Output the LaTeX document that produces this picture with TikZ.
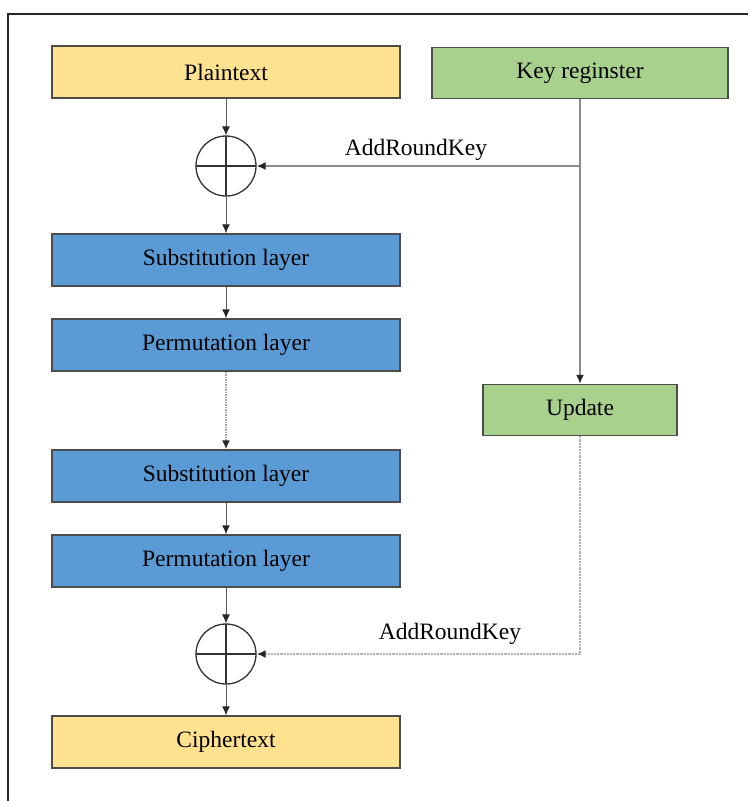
\documentclass[tikz,border=0pt]{standalone}
\usepackage{fontspec}
\setmainfont{Liberation Serif}
\usetikzlibrary{arrows.meta,positioning,calc}
\definecolor{textyellow}{HTML}{FFE28F}
\definecolor{keygreen}{HTML}{A9D18E}
\definecolor{layerblue}{HTML}{5B9BD5}

\begin{document}
\begin{tikzpicture}[x=1pt,y=-1pt,
  box/.style={rectangle, draw=black!70, line width=1.5pt, inner sep=0pt,
    minimum width=348pt, minimum height=52pt, font=\fontsize{23.5}{28}\selectfont},
  xorgate/.style={circle, draw=black!80, line width=1.3pt, minimum size=60pt, inner sep=0pt,
    path picture={\draw[black!80, line width=1.3pt]
      (path picture bounding box.north) -- (path picture bounding box.south)
      (path picture bounding box.west) -- (path picture bounding box.east);}},
  tip/.style={-{Latex[length=9pt,width=8pt,color=black!85]}},
  flow/.style={tip, black!65, line width=1pt},
  keyline/.style={black!45, line width=1.3pt},
  dotline/.style={black!30, line width=2.2pt, densely dotted},
  lbl/.style={font=\fontsize{23.5}{28}\selectfont, inner sep=0pt}]
\useasboundingbox (0,0) rectangle (748,801);
\draw[black!85, line width=2pt] (8,801) -- (8,14) -- (748,14);

% data path
\node[box, fill=textyellow] (plain) at (226,72) {Plaintext};
\node[xorgate] (xorA) at (226,166) {};
\node[box, fill=layerblue] (subA) at (226,260) {Substitution layer};
\node[box, fill=layerblue] (permA) at (226,345) {Permutation layer};
\node[box, fill=layerblue] (subB) at (226,476) {Substitution layer};
\node[box, fill=layerblue] (permB) at (226,561) {Permutation layer};
\node[xorgate] (xorB) at (226,654) {};
\node[box, fill=textyellow] (cipher) at (226,742) {Ciphertext};

% key schedule
\node[box, fill=keygreen, minimum width=296pt, minimum height=51pt] (key) at (580,73) {Key reginster};
\node[box, fill=keygreen, minimum width=194pt, minimum height=51pt] (update) at (580,410) {Update};
\coordinate (split) at (580,166);
\coordinate (turn) at (580,654);

\node[lbl] (lblA) at (416,150) {AddRoundKey};
\node[lbl] (lblB) at (450,634) {AddRoundKey};

\draw[flow] (plain) -- (xorA);
\draw[flow] (xorA) -- (subA);
\draw[flow] (subA) -- (permA);
\draw[flow, black!35, line width=1.5pt, densely dotted] (permA) -- (subB);
\draw[flow] (subB) -- (permB);
\draw[flow] (permB) -- (xorB);
\draw[flow] (xorB) -- (cipher);

\draw[keyline] (key) -- (split);
\draw[keyline, tip] (split) -- (update);
\draw[keyline, tip] (split) -- (xorA);
\draw[dotline, tip] (update) -- (turn) -- (xorB);
\end{tikzpicture}
\end{document}
